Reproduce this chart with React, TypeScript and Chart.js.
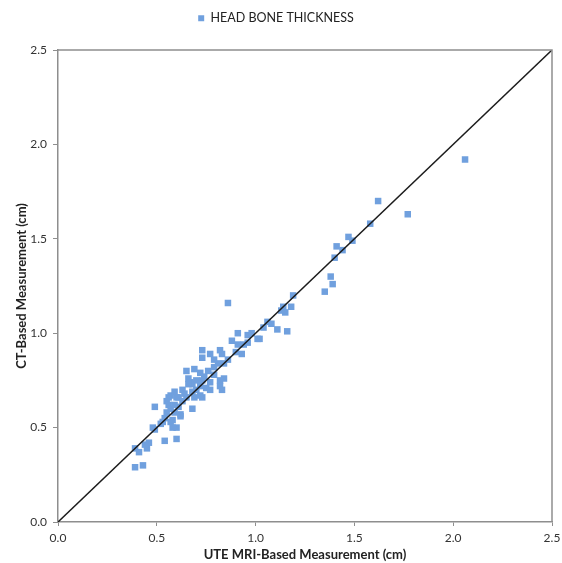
import React, { useEffect, useRef } from "react";
import { Chart, registerables } from "chart.js";

Chart.register(...registerables);

const seriesLabel = "HEAD BONE THICKNESS";

const uteMri = [
  0.39, 0.43, 0.39, 0.41, 0.45, 0.46, 0.44, 0.49, 0.54, 0.60,
  0.49, 0.53, 0.57, 0.60, 0.55, 0.55, 0.57, 0.59, 0.61, 0.63,
  0.68, 0.67, 0.54, 0.58, 0.62, 0.59, 0.62, 0.56, 0.61, 0.56,
  0.60, 0.65, 0.69, 0.73, 0.68, 0.72, 0.77, 0.68, 0.72, 0.75,
  0.82, 0.83, 0.66, 0.70, 0.73, 0.77, 0.82, 0.65, 0.69, 0.72,
  0.76, 0.79, 0.84, 0.73, 0.79, 0.81, 0.84, 0.73, 0.77, 0.82,
  0.83, 0.90, 0.93, 0.88, 0.91, 0.94, 0.96, 0.91, 0.96, 0.98,
  1.01, 1.02, 1.06, 1.04, 1.11, 1.16, 1.14, 1.15, 0.86, 0.48,
  0.58, 1.19, 1.18, 1.13, 1.08, 1.35, 1.39, 1.38, 1.40, 1.44,
  1.41, 1.49, 1.47, 1.58, 1.77, 1.62, 2.06, 0.57, 0.63, 0.64,
  0.70, 0.74, 0.79, 0.86, 0.52, 0.66, 0.59,
];

const ctBased = [
  0.29, 0.30, 0.39, 0.37, 0.39, 0.42, 0.41, 0.61, 0.43, 0.44,
  0.49, 0.53, 0.53, 0.50, 0.58, 0.64, 0.67, 0.69, 0.66, 0.70,
  0.60, 0.74, 0.55, 0.54, 0.56, 0.58, 0.57, 0.62, 0.61, 0.66,
  0.66, 0.66, 0.66, 0.66, 0.69, 0.67, 0.70, 0.73, 0.72, 0.71,
  0.72, 0.70, 0.76, 0.75, 0.75, 0.74, 0.75, 0.80, 0.81, 0.79,
  0.80, 0.78, 0.76, 0.87, 0.86, 0.84, 0.84, 0.91, 0.89, 0.91,
  0.89, 0.90, 0.89, 0.96, 0.94, 0.94, 0.95, 1.00, 0.99, 1.00,
  0.97, 0.97, 1.06, 1.03, 1.02, 1.01, 1.14, 1.11, 1.16, 0.50,
  0.50, 1.20, 1.14, 1.12, 1.05, 1.22, 1.26, 1.30, 1.40, 1.44,
  1.46, 1.49, 1.51, 1.58, 1.63, 1.70, 1.92, 0.60, 0.64, 0.68,
  0.70, 0.77, 0.82, 0.86, 0.52, 0.73, 0.62,
];

const identityX = [0, 2.5];
const identityY = [0, 2.5];

const axisMin = 0;
const axisMax = 2.5;
const axisStep = 0.5;

const xTitle = "UTE MRI-Based Measurement (cm)";
const yTitle = "CT-Based Measurement (cm)";

const FONT = "Lato, 'Open Sans', sans-serif";
const AXIS_COLOR = "#8e8e8e";
const POINT_COLOR = "rgb(112,160,222)";

export default function App() {
  const ref = useRef<HTMLCanvasElement | null>(null);

  useEffect(() => {
    document.body.style.margin = "0";
    const canvas = ref.current;
    if (!canvas) return;

    const legendHeight = {
      id: "legendHeight",
      beforeInit(chart: any) {
        const legend = chart.legend;
        if (!legend) return;
        const orig = legend.fit;
        legend.fit = function () {
          orig.call(this);
          this.height = 50;
        };
      },
    };

    const frame = {
      id: "frame",
      afterDatasetsDraw(chart: any) {
        const { ctx, chartArea } = chart;
        ctx.save();
        ctx.strokeStyle = AXIS_COLOR;
        ctx.lineWidth = 1.5;
        ctx.beginPath();
        ctx.moveTo(chartArea.left, chartArea.top);
        ctx.lineTo(chartArea.right, chartArea.top);
        ctx.lineTo(chartArea.right, chartArea.bottom);
        ctx.stroke();
        ctx.restore();
      },
    };

    const chart = new Chart(canvas, {
      type: "scatter",
      data: {
        datasets: [
          {
            label: "identity",
            data: identityX.map((x, i) => ({ x, y: identityY[i] })),
            showLine: true,
            borderColor: "#1c1c1c",
            borderWidth: 1.5,
            pointRadius: 0,
            order: 0,
          } as any,
          {
            label: seriesLabel,
            data: uteMri.map((x, i) => ({ x, y: ctBased[i] })),
            backgroundColor: POINT_COLOR,
            borderColor: POINT_COLOR,
            borderWidth: 0,
            pointStyle: "rect",
            pointRadius: 4.6,
            order: 1,
          } as any,
        ],
      },
      options: {
        responsive: false,
        animation: false,
        layout: { padding: { right: 10, top: 0, left: 0, bottom: 0 } },
        plugins: {
          tooltip: { enabled: false },
          legend: {
            display: true,
            position: "top",
            labels: {
              boxWidth: 6,
              boxHeight: 6,
              padding: 12,
              color: "#222",
              font: { family: FONT, size: 12.5 },
              filter: (item: any) => item.text === seriesLabel,
            },
          },
        },
        scales: {
          x: {
            type: "linear",
            min: axisMin,
            max: axisMax,
            afterFit: (s: any) => {
              s.height = 41;
              s.paddingRight = 0;
              s.paddingLeft = 0;
            },
            ticks: {
              stepSize: axisStep,
              padding: 5,
              color: "#333",
              font: { family: FONT, size: 12 },
              callback: (v: any) => Number(v).toFixed(1),
            },
            grid: {
              drawOnChartArea: false,
              drawTicks: true,
              tickLength: 4,
              color: AXIS_COLOR,
            },
            border: { display: true, color: AXIS_COLOR, width: 1.5 },
            title: {
              display: true,
              text: xTitle,
              color: "#222",
              font: { family: FONT, size: 13, weight: "bold" },
              padding: { top: 0, bottom: 0 },
            },
          },
          y: {
            type: "linear",
            min: axisMin,
            max: axisMax,
            afterFit: (s: any) => {
              s.width = 58;
            },
            ticks: {
              stepSize: axisStep,
              padding: 6,
              color: "#333",
              font: { family: FONT, size: 12 },
              callback: (v: any) => Number(v).toFixed(1),
            },
            grid: {
              drawOnChartArea: false,
              drawTicks: true,
              tickLength: 5,
              color: AXIS_COLOR,
            },
            border: { display: true, color: AXIS_COLOR, width: 1.5 },
            title: {
              display: true,
              text: yTitle,
              color: "#222",
              font: { family: FONT, size: 13, weight: "bold" },
              padding: { top: 14, bottom: 0 },
            },
          },
        },
      } as any,
      plugins: [legendHeight, frame],
    });

    return () => {
      chart.destroy();
    };
  }, []);

  return (
    <div style={{ width: 562, height: 563 }}>
      <canvas ref={ref} width={562} height={563} style={{ display: "block" }} />
    </div>
  );
}
